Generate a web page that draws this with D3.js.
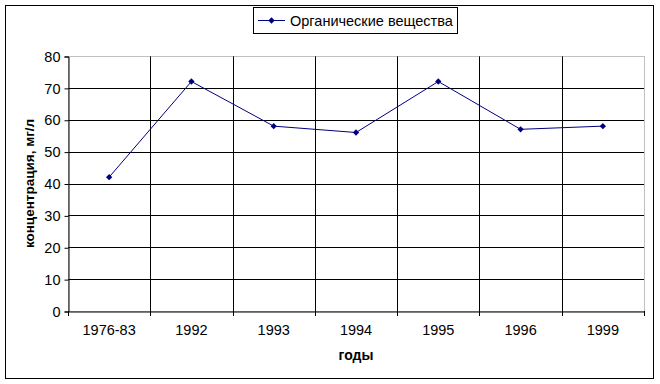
<!DOCTYPE html>
<html>
<head>
<meta charset="utf-8">
<script src="https://cdn.jsdelivr.net/npm/d3@7"></script>
<style>
  body { margin: 0; background: #fff; }
  text { font-family: "Liberation Sans", Arial, sans-serif; }
</style>
</head>
<body>
<div id="chart-area"></div>
<script>
// data
var years = ["1976-83", "1992", "1993", "1994", "1995", "1996", "1999"];
var values = [42, 72, 58, 56, 72, 57, 58];
var yTicks = [0, 10, 20, 30, 40, 50, 60, 70, 80];
var seriesName = "Органические вещества";

var svg = d3.select("#chart-area").append("svg")
    .attr("width", 660)
    .attr("height", 384);

// outer frame
svg.append("rect")
    .attr("x", 5.5).attr("y", 5.5)
    .attr("width", 648).attr("height", 373)
    .attr("fill", "#fff").attr("stroke", "#000");

// plot area box (window.top is reserved, so own names)
var pLeft = 68, pRight = 644, pTop = 56, pBottom = 311;

var x = d3.scaleBand().domain(years).range([pLeft, pRight]);
var y = d3.scaleLinear().domain([0, 80]).range([pBottom, pTop]);

// horizontal gridlines
svg.selectAll(".hgrid")
    .data(yTicks.filter(function(d) { return d > 0 && d < 80; }))
    .enter().append("line")
    .attr("x1", pLeft).attr("x2", pRight)
    .attr("y1", function(d) { return Math.round(y(d)) + 0.5; })
    .attr("y2", function(d) { return Math.round(y(d)) + 0.5; })
    .attr("stroke", "#000");

// vertical gridlines at category edges
svg.selectAll(".vgrid")
    .data(years.slice(1))
    .enter().append("line")
    .attr("x1", function(d) { return Math.round(x(d)) + 0.5; })
    .attr("x2", function(d) { return Math.round(x(d)) + 0.5; })
    .attr("y1", pTop).attr("y2", pBottom)
    .attr("stroke", "#000");

// plot area border (grey, dotted look)
svg.append("rect")
    .attr("x", pLeft + 0.5).attr("y", pTop + 0.5)
    .attr("width", pRight - pLeft).attr("height", pBottom - pTop)
    .attr("fill", "none").attr("stroke", "#808080")
    .attr("stroke-dasharray", "1,1");

// y axis
var yAxis = svg.append("g")
    .attr("transform", "translate(" + (pLeft + 0.5) + ",0.5)")
    .call(d3.axisLeft(y).tickValues(yTicks).tickSize(4).tickPadding(4));
yAxis.select(".domain").attr("stroke", "#000");
yAxis.selectAll("text")
    .style("font-family", "Liberation Sans, Arial, sans-serif")
    .style("font-size", "14.5px").attr("fill", "#000");

// x axis
var xAxis = svg.append("g")
    .attr("transform", "translate(0," + (pBottom + 0.5) + ")")
    .call(d3.axisBottom(x).tickSize(0).tickPadding(13));
xAxis.select(".domain").attr("stroke", "#000");
xAxis.selectAll("text")
    .style("font-family", "Liberation Sans, Arial, sans-serif")
    .style("font-size", "14.5px").attr("fill", "#000");

// category tick marks on the edges
svg.selectAll(".xtick")
    .data(years.concat(["end"]))
    .enter().append("line")
    .attr("x1", function(d, i) { return Math.round(pLeft + i * x.bandwidth()) + 0.5; })
    .attr("x2", function(d, i) { return Math.round(pLeft + i * x.bandwidth()) + 0.5; })
    .attr("y1", pBottom).attr("y2", pBottom + 5)
    .attr("stroke", "#000");

// axis titles
svg.append("text")
    .attr("transform", "translate(34," + ((pTop + pBottom) / 2) + ") rotate(-90)")
    .attr("text-anchor", "middle")
    .style("font-size", "13.5px").style("font-weight", "bold")
    .text("концентрация, мг/л");

svg.append("text")
    .attr("x", (pLeft + pRight) / 2).attr("y", 360)
    .attr("text-anchor", "middle")
    .style("font-size", "14px").style("font-weight", "bold")
    .text("годы");

// series line
var line = d3.line()
    .x(function(d, i) { return x(years[i]) + x.bandwidth() / 2; })
    .y(function(d) { return y(d); });

svg.append("path")
    .datum(values)
    .attr("d", line)
    .attr("fill", "none")
    .attr("stroke", "#000080")
    .attr("stroke-width", 1);

// square turned 45 degrees -> even diamond like the Excel marker
var diamond = d3.symbol().type(d3.symbolSquare).size(20);

svg.selectAll(".pt")
    .data(values)
    .enter().append("path")
    .attr("d", diamond)
    .attr("transform", function(d, i) {
        return "translate(" + (x(years[i]) + x.bandwidth() / 2) + "," + y(d) + ") rotate(45)";
    })
    .attr("fill", "#000080");

// legend
var legend = svg.append("g");
legend.append("rect")
    .attr("x", 253.5).attr("y", 7.5)
    .attr("width", 204).attr("height", 26)
    .attr("fill", "#fff").attr("stroke", "#000");
legend.append("line")
    .attr("x1", 258).attr("x2", 285)
    .attr("y1", 20.5).attr("y2", 20.5)
    .attr("stroke", "#000080");
legend.append("path")
    .attr("d", diamond)
    .attr("transform", "translate(271.5,20.5) rotate(45)")
    .attr("fill", "#000080");
legend.append("text")
    .attr("x", 290).attr("y", 25.5)
    .style("font-size", "14.5px")
    .text(seriesName);
</script>
</body>
</html>
